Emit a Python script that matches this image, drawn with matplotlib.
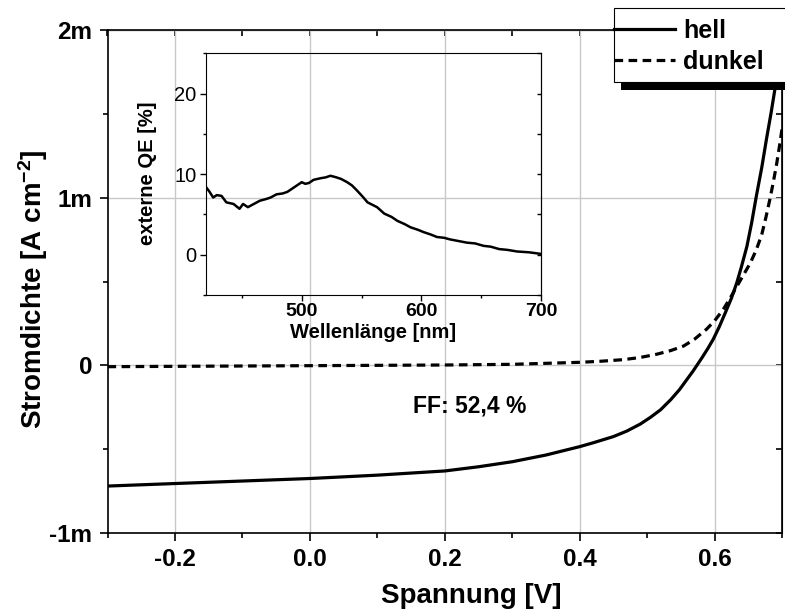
import matplotlib
matplotlib.use('Agg')
import matplotlib.pyplot as plt
from matplotlib.patches import Rectangle
from matplotlib.ticker import MultipleLocator, FuncFormatter

plt.rcParams['font.family'] = ['Liberation Sans', 'DejaVu Sans']
plt.rcParams['mathtext.fontset'] = 'custom'
plt.rcParams['mathtext.rm'] = 'Liberation Sans'
plt.rcParams['mathtext.bf'] = 'Liberation Sans:bold'
plt.rcParams['mathtext.default'] = 'bf'

# J-V curves, current density in mA/cm^2 (axis labelled with "m")
v_hell = [-0.30, -0.20, -0.10, 0.00, 0.10, 0.20, 0.25, 0.30, 0.35, 0.40, 0.42,
          0.45, 0.47, 0.49, 0.505, 0.52, 0.535, 0.548, 0.558, 0.568, 0.581, 0.59,
          0.598, 0.607, 0.616, 0.625, 0.633, 0.64, 0.648, 0.655, 0.662, 0.67,
          0.677, 0.684, 0.690, 0.695, 0.700]
j_hell = [-0.72, -0.705, -0.69, -0.675, -0.655, -0.63, -0.605, -0.575, -0.535,
          -0.485, -0.462, -0.425, -0.392, -0.35, -0.31, -0.265, -0.205, -0.145,
          -0.09, -0.035, 0.043, 0.10, 0.155, 0.23, 0.314, 0.40, 0.493, 0.59, 0.71,
          0.85, 1.01, 1.18, 1.35, 1.51, 1.66, 1.79, 1.92]

v_dunkel = [-0.30, -0.20, -0.10, 0.00, 0.10, 0.20, 0.30, 0.35, 0.40, 0.43, 0.465,
            0.49, 0.514, 0.535, 0.554, 0.57, 0.588, 0.60, 0.613, 0.623, 0.633,
            0.643, 0.653, 0.662, 0.670, 0.676, 0.682, 0.687, 0.692, 0.696, 0.700]
j_dunkel = [-0.008, -0.006, -0.004, -0.002, 0.0, 0.002, 0.006, 0.012, 0.018,
            0.024, 0.034, 0.047, 0.066, 0.088, 0.115, 0.155, 0.215, 0.265, 0.334,
            0.40, 0.47, 0.54, 0.61, 0.69, 0.78, 0.88, 0.99, 1.09, 1.20, 1.30, 1.41]

ff_text = 'FF: 52,4 %'

# inset: external quantum efficiency
wl = [420, 423, 426, 429, 433, 437, 443, 448, 451, 455, 460, 465, 470, 474, 479,
      484, 488, 492, 496, 500, 503, 506, 510, 516, 520, 524, 529, 533, 538, 542,
      546, 551, 555, 559, 563, 569, 575, 580, 586, 591, 597, 602, 608, 613, 619,
      624, 631, 638, 645, 652, 658, 665, 672, 680, 690, 700]
qe = [8.4, 7.8, 7.1, 7.4, 7.3, 6.5, 6.3, 5.7, 6.3, 5.9, 6.3, 6.7, 6.9, 7.1, 7.5,
      7.6, 7.8, 8.2, 8.6, 9.0, 8.8, 8.9, 9.3, 9.5, 9.6, 9.8, 9.6, 9.4, 9.0, 8.6,
      8.0, 7.2, 6.5, 6.2, 5.9, 5.1, 4.7, 4.2, 3.8, 3.4, 3.1, 2.8, 2.5, 2.2, 2.1,
      1.9, 1.7, 1.5, 1.4, 1.1, 1.0, 0.7, 0.6, 0.4, 0.3, 0.1]

W, H = 785, 612
fig = plt.figure(figsize=(W / 100, H / 100), dpi=100)


def fbox(l, t, r, b):
    # pixel box -> figure fraction
    return [l / W, 1 - b / H, (r - l) / W, (b - t) / H]


ax = fig.add_axes(fbox(107.5, 30, 782, 533))
ax.plot(v_hell, j_hell, color='black', lw=2.3, label='hell')
ax.plot(v_dunkel, j_dunkel, color='black', lw=2.3, ls=(0, (2.7, 1.7)), label='dunkel')
ax.set_xlim(-0.3, 0.7)
ax.set_ylim(-1, 2)
ax.set_axisbelow(True)
ax.grid(which='major', color='#c8c8c8', lw=1)
ax.xaxis.set_major_locator(MultipleLocator(0.2))
ax.xaxis.set_minor_locator(MultipleLocator(0.1))
ax.yaxis.set_major_locator(MultipleLocator(1))
ax.yaxis.set_minor_locator(MultipleLocator(0.5))
ax.xaxis.set_major_formatter(FuncFormatter(lambda v, p: f'{round(v, 6) + 0.0:.1f}'))
ax.yaxis.set_major_formatter(FuncFormatter(lambda v, p: '0' if abs(v) < 1e-9 else f'{v:.0f}m'))
ax.tick_params(which='major', direction='out', length=6, width=1.2, labelsize=17.5, pad=5)
ax.tick_params(which='minor', direction='out', length=3.6, width=1.2)
for lab in ax.get_xticklabels() + ax.get_yticklabels():
    lab.set_fontweight('bold')
for s in ax.spines.values():
    s.set_linewidth(1.2)

top = ax.secondary_xaxis('top')
top.xaxis.set_major_locator(MultipleLocator(0.2))
top.xaxis.set_minor_locator(MultipleLocator(0.1))
top.tick_params(which='both', direction='in', labeltop=False, length=4, width=1.2)
right = ax.secondary_yaxis('right')
right.yaxis.set_major_locator(MultipleLocator(1))
right.yaxis.set_minor_locator(MultipleLocator(0.5))
right.tick_params(which='both', direction='in', labelright=False, length=4, width=1.2)

ax.set_xlabel('Spannung [V]', fontsize=20, fontweight='bold')
ax.xaxis.set_label_coords(0.54, -0.1)
ax.set_ylabel(r'Stromdichte [A cm$^{-2}$]', fontsize=20, fontweight='bold')
ax.yaxis.set_label_coords(-0.085, 0.485)

ax.text(0.2375, -0.24, ff_text, ha='center', va='center', fontsize=16.5, fontweight='bold')

# inset
ins = fig.add_axes(fbox(206, 53.3, 541, 295))
ins.set_facecolor('none')
ins.plot(wl, qe, color='black', lw=1.8)
ins.set_xlim(420, 700)
ins.set_ylim(-5, 25)
ins.xaxis.set_major_locator(MultipleLocator(100))
ins.xaxis.set_minor_locator(MultipleLocator(50))
ins.yaxis.set_major_locator(MultipleLocator(10))
ins.yaxis.set_minor_locator(MultipleLocator(5))
ins.tick_params(which='major', direction='out', length=4, width=1)
ins.tick_params(which='minor', direction='out', length=2.5, width=1)
ins.tick_params(axis='y', labelsize=14.5, pad=3)
ins.tick_params(axis='x', labelsize=14, pad=1.5)
for lab in ins.get_xticklabels():
    lab.set_fontweight('bold')
ins_r = ins.secondary_yaxis('right')
ins_r.yaxis.set_major_locator(MultipleLocator(10))
ins_r.yaxis.set_minor_locator(MultipleLocator(5))
ins_r.tick_params(which='both', direction='in', labelright=False, length=3, width=1)
ins.set_xlabel('Wellenlänge [nm]', fontsize=14.5, fontweight='bold')
ins.xaxis.set_label_coords(0.5, -0.115)
ins.set_ylabel('externe QE [%]', fontsize=14.5, fontweight='bold')
ins.yaxis.set_label_coords(-0.145, 0.505)

# legend box with hard shadow, running off the right edge
fig.add_artist(Rectangle((621 / W, 1 - 90 / H), (800 - 621) / W, (90 - 16) / H,
                         transform=fig.transFigure, facecolor='black', edgecolor='none', zorder=2.5))
fig.add_artist(Rectangle((614 / W, 1 - 82 / H), (800 - 614) / W, (82 - 8) / H,
                         transform=fig.transFigure, facecolor='white', edgecolor='black',
                         lw=0.8, zorder=3))
handles, labels = ax.get_legend_handles_labels()
fig.legend(handles, labels, loc='upper left', bbox_to_anchor=(614 / W, 1 - 19 / H),
           frameon=False, borderpad=0, borderaxespad=0, handlelength=2.44,
           handletextpad=0.32, labelspacing=0.27, prop={'weight': 'bold', 'size': 18})

fig.savefig('out.png', dpi=100)
